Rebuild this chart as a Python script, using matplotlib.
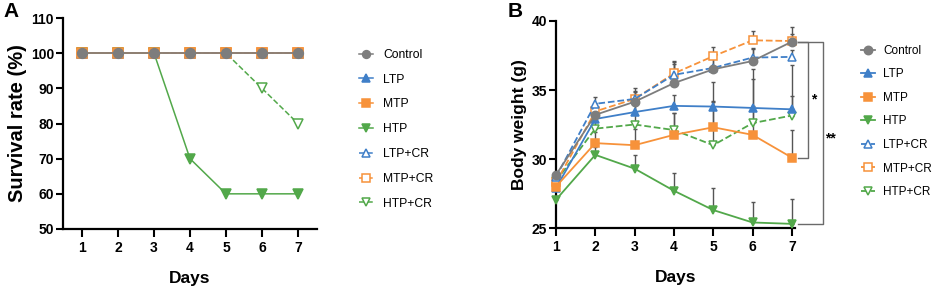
import matplotlib
matplotlib.use("Agg")
import matplotlib.pyplot as plt
import numpy as np

plt.rcParams['font.family'] = ['Liberation Sans', 'DejaVu Sans']

days = [1, 2, 3, 4, 5, 6, 7]
groups = ["Control", "LTP", "MTP", "HTP", "LTP+CR", "MTP+CR", "HTP+CR"]

# Panel A: survival rate (%)
surv_control = [100, 100, 100, 100, 100, 100, 100]
surv_ltp = [100, 100, 100, 100, 100, 100, 100]
surv_mtp = [100, 100, 100, 100, 100, 100, 100]
surv_htp = [100, 100, 100, 70, 60, 60, 60]
surv_ltp_cr = [100, 100, 100, 100, 100, 100, 100]
surv_mtp_cr = [100, 100, 100, 100, 100, 100, 100]
surv_htp_cr = [100, 100, 100, 100, 100, 90, 80]

# Panel B: body weight (g), mean and upper SD
bw_control = [28.85, 33.2, 34.15, 35.5, 36.5, 37.1, 38.5]
bw_ltp = [27.9, 32.9, 33.4, 33.85, 33.8, 33.7, 33.6]
bw_mtp = [28.0, 31.15, 31.0, 31.75, 32.3, 31.75, 30.1]
bw_htp = [27.05, 30.3, 29.3, 27.7, 26.3, 25.4, 25.3]
bw_ltp_cr = [28.7, 34.0, 34.35, 36.1, 36.6, 37.35, 37.4]
bw_mtp_cr = [28.3, 33.45, 34.35, 36.2, 37.45, 38.6, 38.55]
bw_htp_cr = [28.4, 32.2, 32.5, 32.1, 31.0, 32.6, 33.15]

sd_control = [0.3, 0.5, 1.0, 1.5, 1.2, 0.9, 1.1]
sd_ltp = [0.3, 0.6, 0.5, 0.8, 1.8, 2.8, 3.2]
sd_mtp = [0.3, 0.8, 1.2, 1.6, 1.9, 2.1, 2.0]
sd_htp = [0.3, 0.6, 1.0, 1.3, 1.6, 1.5, 1.8]
sd_ltp_cr = [0.3, 0.5, 0.5, 0.8, 0.7, 0.7, 0.5]
sd_mtp_cr = [0.3, 0.6, 0.6, 0.9, 0.7, 0.7, 0.5]
sd_htp_cr = [0.3, 0.9, 1.5, 1.2, 3.1, 3.2, 1.4]

GREY = '#7d7d7d'
BLUE = '#3f7fc8'
ORANGE = '#f7923a'
GREEN = '#52a84a'

styles = {
    "Control": dict(color=GREY, marker='o', ls='-', mfc=GREY),
    "LTP": dict(color=BLUE, marker='^', ls='-', mfc=BLUE),
    "MTP": dict(color=ORANGE, marker='s', ls='-', mfc=ORANGE),
    "HTP": dict(color=GREEN, marker='v', ls='-', mfc=GREEN),
    "LTP+CR": dict(color=BLUE, marker='^', ls='--', mfc='white'),
    "MTP+CR": dict(color=ORANGE, marker='s', ls='--', mfc='white'),
    "HTP+CR": dict(color=GREEN, marker='v', ls='--', mfc='white'),
}
zorders = {"Control": 9, "LTP": 6, "MTP": 7, "HTP": 5, "LTP+CR": 4, "MTP+CR": 3, "HTP+CR": 2}

fig = plt.figure(figsize=(9.34, 2.89), dpi=100)

def style_axes(ax):
    for s in ['top', 'right']:
        ax.spines[s].set_visible(False)
    for s in ['left', 'bottom']:
        ax.spines[s].set_linewidth(1.6)
    ax.tick_params(axis='x', direction='out', length=5.5, width=1.5, labelsize=10, pad=3)
    ax.tick_params(axis='y', direction='out', length=5, width=1.5, labelsize=10, pad=1.5)
    for lab in ax.get_xticklabels() + ax.get_yticklabels():
        lab.set_fontweight('bold')

# ---------- Panel A ----------
axA = fig.add_axes([63/934, 60/289, 254/934, 211/289])
surv = [surv_control, surv_ltp, surv_mtp, surv_htp, surv_ltp_cr, surv_mtp_cr, surv_htp_cr]
handles = []
for g, vals in zip(groups, surv):
    st = styles[g]
    h, = axA.plot(days, vals, color=st['color'], ls=st['ls'], lw=1.1, marker=st['marker'],
                  mfc=st['mfc'], mec=st['color'], ms=7, mew=1.1, zorder=zorders[g], clip_on=False)
    handles.append(h)
axA.set_xlim(0.47, 7.53)
axA.set_ylim(50, 110)
axA.set_xticks(days)
axA.set_yticks(range(50, 111, 10))
style_axes(axA)
axA.set_xlabel("Days", fontsize=12.5, fontweight='bold', labelpad=12)
axA.set_ylabel("Survival rate (%)", fontsize=14.5, fontweight='bold', labelpad=3)
fig.legend(handles, groups, loc='upper left', bbox_to_anchor=(354/934, 1 - 44/289),
           frameon=False, fontsize=8.7, handlelength=1.2, handletextpad=0.8, labelspacing=1.06,
           borderaxespad=0, markerscale=0.8)
fig.text(3/934, 1 - 2/289, "A", fontsize=15, fontweight='bold', va='top', ha='left')

# ---------- Panel B ----------
axB = fig.add_axes([556/934, 61/289, 239/934, 207/289])
bw = [bw_control, bw_ltp, bw_mtp, bw_htp, bw_ltp_cr, bw_mtp_cr, bw_htp_cr]
sds = [sd_control, sd_ltp, sd_mtp, sd_htp, sd_ltp_cr, sd_mtp_cr, sd_htp_cr]
handlesB = []
for g, vals, sd in zip(groups, bw, sds):
    st = styles[g]
    axB.errorbar(days, vals, yerr=[np.zeros(len(sd)), sd], fmt='none', ecolor='#555555',
                 elinewidth=1.0, capsize=1.5, capthick=1.0, zorder=1)
    h, = axB.plot(days, vals, color=st['color'], ls=st['ls'], lw=1.3, marker=st['marker'],
                  mfc=st['mfc'], mec=st['color'], ms=6, mew=1.1, zorder=zorders[g] + 2, clip_on=False)
    handlesB.append(h)
axB.set_xlim(1, 7.08)
axB.set_ylim(25, 40)
axB.set_xticks(days)
axB.set_yticks([25, 30, 35, 40])
style_axes(axB)
axB.set_xlabel("Days", fontsize=12.5, fontweight='bold', labelpad=12)
axB.set_ylabel("Body weight (g)", fontsize=12.5, fontweight='bold', labelpad=3)

# significance brackets
bc = '#6a6a6a'
axB.plot([7.15, 7.41, 7.41, 7.15], [bw_control[-1], bw_control[-1], bw_mtp[-1], bw_mtp[-1]],
         color=bc, lw=1.0, clip_on=False)
axB.plot([7.15, 7.79, 7.79, 7.15], [bw_control[-1], bw_control[-1], bw_htp[-1], bw_htp[-1]],
         color=bc, lw=1.0, clip_on=False)
axB.text(7.55, 34.3, "*", fontsize=10, fontweight='bold', ha='center', va='center')
axB.text(7.98, 31.5, "**", fontsize=10, fontweight='bold', ha='center', va='center')

fig.legend(handlesB, groups, loc='upper left', bbox_to_anchor=(856/934, 1 - 40/289),
           frameon=False, fontsize=8.5, handlelength=1.2, handletextpad=0.7, labelspacing=0.98,
           borderaxespad=0)
fig.text(508/934, 1 - 2/289, "B", fontsize=15, fontweight='bold', va='top', ha='left')

fig.savefig("out.png", dpi=100)
